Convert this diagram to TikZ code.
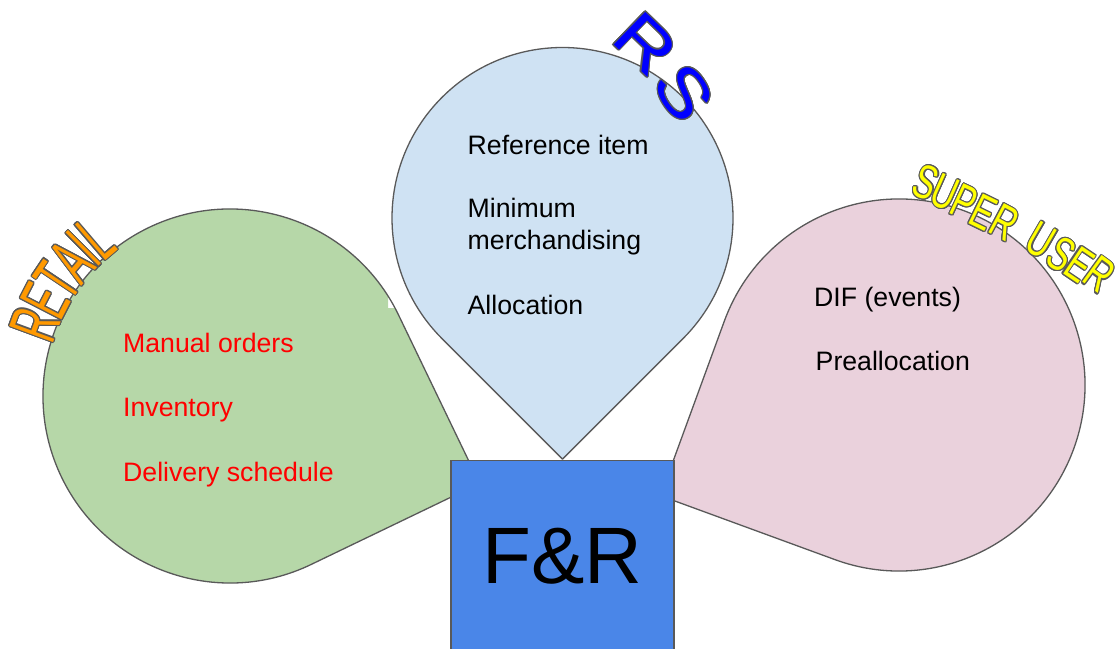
\documentclass[tikz,border=0pt]{standalone}
\usepackage{fontspec}
\setmainfont{Liberation Sans}
\usepackage{graphicx}
\usepackage{contour}
\contourlength{1.1pt}
\usetikzlibrary{calc}
\definecolor{olgray}{HTML}{595959}
\definecolor{dropgreen}{HTML}{B6D7A8}
\definecolor{dropblue}{HTML}{CFE2F3}
\definecolor{droppink}{HTML}{EAD1DC}
\definecolor{frblue}{HTML}{4A86E8}
\definecolor{waorange}{HTML}{FF9900}
\definecolor{wayellow}{HTML}{FFFF00}
\definecolor{wablue}{HTML}{0000FF}
\definecolor{itemred}{HTML}{FF0000}
\tikzset{
  dropline/.style={draw=olgray, line width=1.3pt, line join=round},
  item/.style={anchor=base west, inner sep=0pt, font=\fontsize{26.67}{32}\selectfont},
  wa/.style={inner sep=0pt, anchor=center},
  retail/.style={wa, text=waorange, font=\fontsize{68}{68}\selectfont},
  super/.style={wa, text=wayellow, font=\fontsize{48}{48}\selectfont},
  rsl/.style={wa, text=wablue, font=\fontsize{66}{66}\selectfont},
  frbox/.style={draw=olgray, line width=1.3pt, fill=frblue, minimum width=223pt, minimum height=230pt, inner sep=0pt},
}
\newcommand\gdrop{(45:187) arc[start angle=45,end angle=315,radius=187] -- (264.46,0) -- cycle}
\newcommand\rl[2]{\contour{olgray}{\scalebox{#1}[1]{#2}}}
\begin{document}
\begin{tikzpicture}[x=1pt,y=1pt]
\useasboundingbox (0,0) rectangle (1115,648);
% green drop (RETAIL)
\begin{scope}
  \clip (0,0) rectangle (388,648);
  \fill[dropgreen, shift={(230,252)}, rotate=-19.3] \gdrop;
\end{scope}
\begin{scope}
  \clip (388,119) rectangle (520,339);
  \fill[dropgreen, shift={(230,252)}, rotate=-19.3] \gdrop;
\end{scope}
\draw[dropline, shift={(230,252)}, rotate=-19.3] \gdrop;
% blue drop (RS)
\draw[dropline, fill=dropblue, shift={(562.5,430)}, rotate=-90]
  (45:170.5) arc[start angle=45,end angle=315,radius=170.5] -- (241.1,0) -- cycle;
% pink drop (SUPER USER)
\draw[dropline, fill=droppink, shift={(899,263)}, rotate=204.9]
  (45:186) arc[start angle=45,end angle=315,radius=186] -- (263.0,0) -- cycle;

% texts
\node[item, text=itemred] (t1) at (123,295.3) {Manual orders};
\node[item, text=itemred] (t2) at (123,231.3) {Inventory};
\node[item, text=itemred] (t3) at (123,167) {Delivery schedule};
\node[item] (b1) at (467.5,493) {Reference item};
\node[item] (b2) at (467.5,430) {Minimum};
\node[item] (b3) at (467.5,398) {merchandising};
\node[item] (b4) at (467.5,333) {Allocation};
\node[item] (p1) at (814,341.3) {DIF (events)};
\node[item] (p2) at (815.5,277.3) {Preallocation};

% word art RETAIL
\coordinate (gc) at (230,252);
\node[retail, rotate=69.8] (wr1) at ($(gc)+(159.8:207)$) {\rl{0.55}{R}};
\node[retail, rotate=62.7] (wr2) at ($(gc)+(152.7:207)$) {\rl{0.55}{E}};
\node[retail, rotate=56.2] (wr3) at ($(gc)+(146.2:207)$) {\rl{0.55}{T}};
\node[retail, rotate=49.6] (wr4) at ($(gc)+(139.6:207)$) {\rl{0.55}{A}};
\node[retail, rotate=44.8] (wr5) at ($(gc)+(134.8:207)$) {\rl{0.55}{I}};
\node[retail, rotate=40.5] (wr6) at ($(gc)+(130.3:207)$) {\rl{0.55}{L}};
% word art RS
\node[rsl, rotate=-44] (ws1) at (645,604) {\rl{1.2}{R}};
\node[rsl, rotate=-56] (ws2) at (684,555) {\rl{1.2}{S}};
% word art SUPER USER
\node[super, rotate=-22] (wu1) at (926,465) {\rl{0.68}{S}};
\node[super, rotate=-24] (wu2) at (945,455) {\rl{0.68}{U}};
\node[super, rotate=-25] (wu3) at (964,445) {\rl{0.68}{P}};
\node[super, rotate=-26] (wu4) at (983,435) {\rl{0.68}{E}};
\node[super, rotate=-28] (wu5) at (1004,425) {\rl{0.68}{R}};
\node[super, rotate=-30] (wu6) at (1041,407) {\rl{0.68}{U}};
\node[super, rotate=-32] (wu7) at (1061,393) {\rl{0.68}{S}};
\node[super, rotate=-34] (wu8) at (1079,383) {\rl{0.68}{E}};
\node[super, rotate=-36] (wu9) at (1099,373) {\rl{0.68}{R}};

% F&R box
\node[frbox] (fr) at (562.5,72.3) {};
\node[anchor=base, inner sep=0pt, font=\fontsize{80}{80}\selectfont] (frlabel) at (562.5,65) {F\&R};
\end{tikzpicture}
\end{document}
